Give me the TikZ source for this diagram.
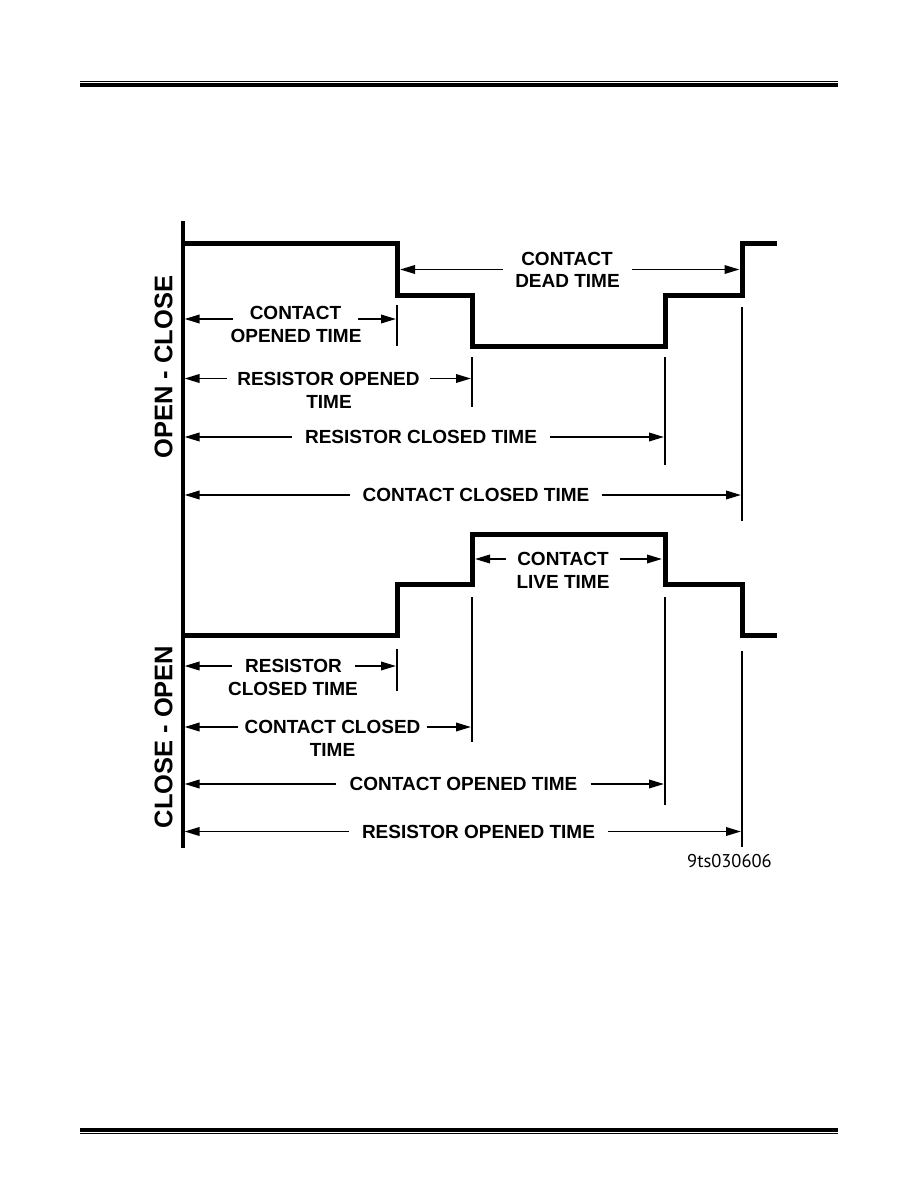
\documentclass[tikz,border=0pt]{standalone}
\usepackage{fontspec}
\setmainfont{Liberation Sans}
\newfontfamily\idfont{PT Sans}
\usetikzlibrary{arrows.meta}
\begin{document}
\begin{tikzpicture}[x=1pt,y=-1pt,
  wave/.style={line width=5pt,line join=miter,line cap=butt},
  axisline/.style={line width=3.2pt},
  tickline/.style={line width=2.2pt},
  dim/.style={line width=1.9pt,-{Triangle[length=15pt,width=8.5pt]}},
  lbl/.style={font=\bfseries\fontsize{19}{22}\selectfont, inner xsep=13pt, inner ysep=0pt, text height=13.6pt, text depth=0pt},
  side/.style={font=\bfseries\fontsize{25.5}{30}\selectfont, rotate=90, inner sep=0pt},
  thickrule/.style={line width=4pt},
  thinrule/.style={line width=1.1pt}]
\useasboundingbox (0,0) rectangle (918,1188);

% page rules
\draw[thinrule] (80,81.5) -- (838,81.5);
\draw[thickrule] (80,85.3) -- (838,85.3);
\draw[thickrule] (80,1129.7) -- (838,1129.7);
\draw[thinrule] (80,1133.3) -- (838,1133.3);

% axis
\draw[axisline] (183,221) -- (183,848);

% waveforms
\draw[wave] (184.5,243) -| (397,295) -| (472,346) -| (665,295) -| (742.5,243) -- (777,243);
\draw[wave] (184.5,635) -| (397,584) -| (472,534) -| (665,584) -| (742.5,635) -- (777,635);

% tick lines
\draw[tickline] (397,305) -- (397,346);
\draw[tickline] (472,357) -- (472,407);
\draw[tickline] (665,357) -- (665,465);
\draw[tickline] (742,307) -- (742,521);
\draw[tickline] (397,649) -- (397,691);
\draw[tickline] (472,597) -- (472,742);
\draw[tickline] (665,597) -- (665,805);
\draw[tickline] (742,651) -- (742,847);

% side labels
\node[side] (oc) at (163.5,367) {OPEN - CLOSE};
\node[side] (co) at (163.5,737) {CLOSE - OPEN};

% ---- OPEN - CLOSE dimensions
% contact dead time
\coordinate (dL) at (400,269.5);
\coordinate (dR) at (739.5,269.5);
\node[lbl] (deadA) at (567,258.5) {CONTACT};
\node[lbl,inner xsep=12pt] (deadB) at (567.5,280.5) {DEAD TIME};
\draw[dim] (deadB.west |- dL) -- (dL);
\draw[dim] (deadB.east |- dR) -- (dR);

% contact opened time
\coordinate (c1L) at (184.5,319);
\coordinate (c1R) at (396,319);
\node[lbl,inner xsep=17pt] (c1) at (295.5,313) {CONTACT};
\node[lbl] (c1b) at (296,335.5) {OPENED TIME};
\draw[dim] (c1.west |- c1L) -- (c1L);
\draw[dim] (c1.east |- c1R) -- (c1R);

% resistor opened time
\coordinate (r1L) at (184.5,378.5);
\coordinate (r1R) at (471,378.5);
\node[lbl,inner xsep=10pt] (r1) at (328.5,378.5) {RESISTOR OPENED};
\node[lbl] (r1b) at (329,401.5) {TIME};
\draw[dim] (r1.west) -- (r1L);
\draw[dim] (r1.east) -- (r1R);

% resistor closed time
\coordinate (r2L) at (184.5,437);
\coordinate (r2R) at (664,437);
\node[lbl] (r2) at (421,437) {RESISTOR CLOSED TIME};
\draw[dim] (r2.west) -- (r2L);
\draw[dim] (r2.east) -- (r2R);

% contact closed time
\coordinate (c2L) at (184.5,495);
\coordinate (c2R) at (741,495);
\node[lbl] (c2) at (476,495) {CONTACT CLOSED TIME};
\draw[dim] (c2.west) -- (c2L);
\draw[dim] (c2.east) -- (c2R);

% ---- CLOSE - OPEN dimensions
% contact live time
\coordinate (lL) at (475,559);
\coordinate (lR) at (662,559);
\node[lbl,inner xsep=11pt] (liveA) at (563,559) {CONTACT};
\node[lbl] (liveB) at (563,581.5) {LIVE TIME};
\draw[dim] (liveA.west) -- (lL);
\draw[dim] (liveA.east) -- (lR);

% resistor closed time
\coordinate (r3L) at (184.5,666);
\coordinate (r3R) at (396,666);
\node[lbl] (r3) at (293.5,666) {RESISTOR};
\node[lbl] (r3b) at (293,688.5) {CLOSED TIME};
\draw[dim] (r3.west) -- (r3L);
\draw[dim] (r3.east) -- (r3R);

% contact closed time
\coordinate (c3L) at (184.5,727);
\coordinate (c3R) at (471,727);
\node[lbl,inner xsep=6pt] (c3) at (332.5,727) {CONTACT CLOSED};
\node[lbl] (c3b) at (332.5,750) {TIME};
\draw[dim] (c3.west) -- (c3L);
\draw[dim] (c3.east) -- (c3R);

% contact opened time
\coordinate (c4L) at (184.5,784);
\coordinate (c4R) at (664,784);
\node[lbl] (c4) at (463.5,784) {CONTACT OPENED TIME};
\draw[dim] (c4.west) -- (c4L);
\draw[dim] (c4.east) -- (c4R);

% resistor opened time
\coordinate (r4L) at (184.5,831.5);
\coordinate (r4R) at (741,831.5);
\node[lbl] (r4) at (478.5,831.5) {RESISTOR OPENED TIME};
\draw[dim] (r4.west) -- (r4L);
\draw[dim] (r4.east) -- (r4R);

% figure id
\node[font=\idfont\fontsize{18.5}{22}\selectfont, inner sep=0pt] (fid) at (729.5,861.5) {9ts030606};
\end{tikzpicture}
\end{document}
